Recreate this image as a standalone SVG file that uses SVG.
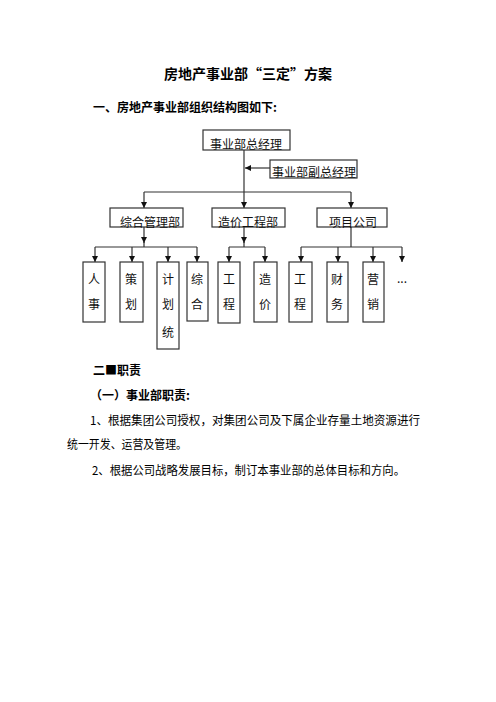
<svg xmlns="http://www.w3.org/2000/svg" width="496" height="702" viewBox="0 0 496 702">
<defs>
<style>
.t{font-family:"Noto Sans CJK SC","Noto Sans",sans-serif;fill:#000}
.b{font-weight:bold}
.box rect{fill:#fff;stroke:#333;stroke-width:1.2}
.lbl{font-family:"Noto Sans CJK SC",sans-serif;font-size:12px;fill:#111;text-anchor:middle}
.conn line{stroke:#333;stroke-width:1.2}
</style>
<marker id="ah" viewBox="0 0 10 10" refX="10" refY="5" markerWidth="6" markerHeight="6" orient="auto" markerUnits="userSpaceOnUse"><path d="M0,0L10,5L0,10z" fill="#111"/></marker>
</defs>
<rect width="496" height="702" fill="#fff"/>
<text class="t b" x="248" y="79" font-size="14" text-anchor="middle">房地产事业部“三定”方案</text>
<text class="t b" x="93" y="112" font-size="12">一、房地产事业部组织结构图如下:</text>

<g class="conn">
<line x1="244" y1="150" x2="244" y2="208" marker-end="url(#ah)"/>
<line x1="270" y1="168" x2="245" y2="168" marker-end="url(#ah)"/>
<line x1="144" y1="192" x2="351" y2="192"/>
<line x1="144" y1="192" x2="144" y2="208" marker-end="url(#ah)"/>
<line x1="351" y1="192" x2="351" y2="208" marker-end="url(#ah)"/>
<line x1="144" y1="227" x2="144" y2="243" marker-end="url(#ah)"/>
<line x1="144" y1="242" x2="144" y2="247"/>
<line x1="95" y1="247" x2="197" y2="247"/>
<line x1="95" y1="247" x2="95" y2="262" marker-end="url(#ah)"/>
<line x1="132" y1="247" x2="132" y2="262" marker-end="url(#ah)"/>
<line x1="168" y1="247" x2="168" y2="262" marker-end="url(#ah)"/>
<line x1="197" y1="247" x2="197" y2="262" marker-end="url(#ah)"/>
<line x1="244" y1="227" x2="244" y2="243" marker-end="url(#ah)"/>
<line x1="244" y1="242" x2="244" y2="247"/>
<line x1="229" y1="247" x2="265" y2="247"/>
<line x1="229" y1="247" x2="229" y2="262" marker-end="url(#ah)"/>
<line x1="265" y1="247" x2="265" y2="262" marker-end="url(#ah)"/>
<line x1="351" y1="227" x2="351" y2="247"/>
<line x1="301" y1="247" x2="402" y2="247"/>
<line x1="301" y1="247" x2="301" y2="262" marker-end="url(#ah)"/>
<line x1="338" y1="247" x2="338" y2="262" marker-end="url(#ah)"/>
<line x1="373" y1="247" x2="373" y2="262" marker-end="url(#ah)"/>
<line x1="402" y1="247" x2="402" y2="262" marker-end="url(#ah)"/>
</g>

<g id="gm" class="box"><rect x="203" y="130" width="87" height="20"/><text class="lbl" x="246" y="149">事业部总经理</text></g>
<g id="dgm" class="box"><rect x="270" y="160" width="87" height="18"/><text class="lbl" x="314" y="177">事业部副总经理</text></g>
<g id="zh" class="box"><rect x="110" y="208" width="73" height="19"/><text class="lbl" x="150" y="227">综合管理部</text></g>
<g id="zj" class="box"><rect x="212" y="208" width="73" height="19"/><text class="lbl" x="248" y="227">造价工程部</text></g>
<g id="xm" class="box"><rect x="317" y="208" width="70" height="19"/><text class="lbl" x="353" y="227">项目公司</text></g>

<g id="rs" class="box"><rect x="83" y="262" width="22" height="60"/><text class="lbl" x="94" y="284">人</text><text class="lbl" x="94" y="309">事</text></g>
<g id="ch" class="box"><rect x="120" y="262" width="23" height="60"/><text class="lbl" x="131" y="284">策</text><text class="lbl" x="131" y="309">划</text></g>
<g id="jh" class="box"><rect x="157" y="262" width="22" height="87"/><text class="lbl" x="168" y="284">计</text><text class="lbl" x="168" y="309">划</text><text class="lbl" x="168" y="337">统</text></g>
<g id="zhh" class="box"><rect x="187" y="262" width="21" height="59"/><text class="lbl" x="197" y="284">综</text><text class="lbl" x="197" y="309">合</text></g>
<g id="gc1" class="box"><rect x="218" y="262" width="22" height="61"/><text class="lbl" x="229" y="284">工</text><text class="lbl" x="229" y="309">程</text></g>
<g id="zjj" class="box"><rect x="254" y="262" width="23" height="60"/><text class="lbl" x="265" y="284">造</text><text class="lbl" x="265" y="309">价</text></g>
<g id="gc2" class="box"><rect x="289" y="262" width="23" height="60"/><text class="lbl" x="300" y="284">工</text><text class="lbl" x="300" y="309">程</text></g>
<g id="cw" class="box"><rect x="327" y="262" width="21" height="60"/><text class="lbl" x="337" y="284">财</text><text class="lbl" x="337" y="309">务</text></g>
<g id="yx" class="box"><rect x="363" y="262" width="21" height="60"/><text class="lbl" x="373" y="284">营</text><text class="lbl" x="373" y="309">销</text></g>
<g id="more"><text class="lbl" x="402" y="283" font-size="10">...</text></g>

<text class="t b" x="93" y="375" font-size="12">二■职责</text>
<text class="t b" x="90" y="400" font-size="12">（一）事业部职责:</text>
<text class="t" x="90" y="425" font-size="12" textLength="330" lengthAdjust="spacingAndGlyphs">1、根据集团公司授权，对集团公司及下属企业存量土地资源进行</text>
<text class="t" x="67" y="449" font-size="12" textLength="120" lengthAdjust="spacingAndGlyphs">统一开发、运营及管理。</text>
<text class="t" x="92" y="475" font-size="12" textLength="313" lengthAdjust="spacingAndGlyphs">2、根据公司战略发展目标，制订本事业部的总体目标和方向。</text>
</svg>
